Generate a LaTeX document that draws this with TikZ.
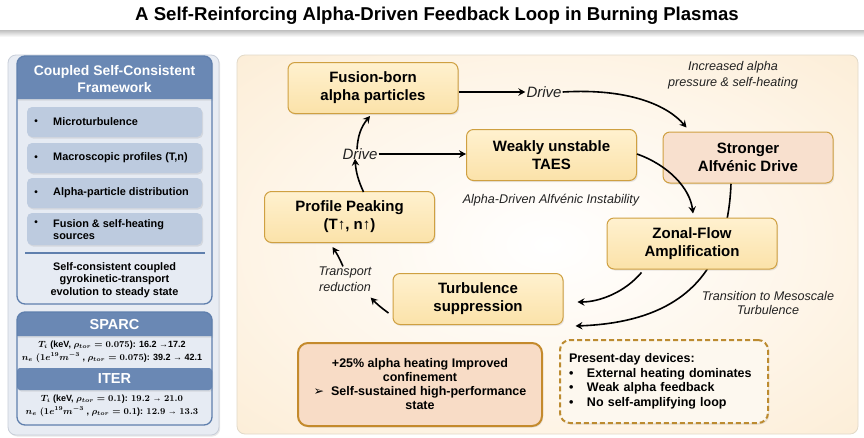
\documentclass[tikz,border=0pt]{standalone}
\usepackage{fontspec}
\setmainfont{Liberation Sans}
\newfontfamily\dejavu{DejaVu Sans}
\usetikzlibrary{shadows,arrows.meta,calc}
\definecolor{blueHead}{HTML}{6A88B4}
\definecolor{blueLine}{HTML}{5F7FAD}
\definecolor{leftBg}{HTML}{E8ECF3}
\definecolor{leftBorder}{HTML}{C8CED9}
\definecolor{frameBody}{HTML}{E6EBF3}
\definecolor{itemFill}{HTML}{BDCBDF}
\definecolor{boxTop}{HTML}{FFF1CF}
\definecolor{boxBot}{HTML}{FBE2A9}
\definecolor{boxLine}{HTML}{CFA041}
\definecolor{strongFill}{HTML}{F8E0CE}
\definecolor{resFill}{HTML}{F8DCC6}
\definecolor{resLine}{HTML}{C48A2C}
\definecolor{dashFill}{HTML}{FDF8EF}
\definecolor{dashLine}{HTML}{BC8B30}
\definecolor{pout}{HTML}{FAE6C6}
\definecolor{pmid}{HTML}{FEF5E8}
\definecolor{panelBorder}{HTML}{E2D9C8}
\definecolor{lblText}{HTML}{222222}
\pgfdeclareradialshading{panelshade}{\pgfpoint{0bp}{0bp}}{color(0bp)=(white); color(22bp)=(pmid); color(50bp)=(pout); color(75bp)=(pout)}
\pgfdeclarelayer{bg}
\pgfdeclarelayer{mid}
\pgfsetlayers{bg,mid,main}
\tikzset{
  myshadow/.style={drop shadow={opacity=0.18, shadow xshift=1.2pt, shadow yshift=-1.5pt}},
  box/.style={draw=boxLine, line width=1pt, top color=boxTop, bottom color=boxBot, rounded corners=7pt,
    align=center, font=\bfseries\fontsize{15}{18}\selectfont, minimum width=170pt, minimum height=51pt,
    inner sep=2pt, myshadow},
  strongbox/.style={box, top color=strongFill, bottom color=strongFill},
  lbl/.style={font=\itshape\fontsize{15}{18}\selectfont, text=lblText, inner sep=1pt},
  smalllbl/.style={font=\itshape\fontsize{12.6}{16}\selectfont, text=lblText, align=center, inner sep=1pt},
  arr/.style={line width=1.6pt, -{Stealth[length=7pt,width=7.5pt,inset=2.5pt]}},
  item/.style={fill=itemFill, rounded corners=5pt, minimum width=175pt, inner sep=0pt, myshadow},
  itemtxt/.style={font=\bfseries\fontsize{10.9}{12.8}\selectfont, align=left, anchor=west, inner sep=0pt},
  bul/.style={font=\bfseries\fontsize{10}{12}\selectfont, inner sep=0pt},
  headtxt/.style={text=white, font=\bfseries\fontsize{14.5}{17}\selectfont, inner sep=0pt},
  mathtxt/.style={font=\bfseries\fontsize{9}{11}\selectfont, align=center, inner sep=0pt},
}
\begin{document}
\begin{tikzpicture}[x=1pt,y=-1pt]
\useasboundingbox (0,0) rectangle (864,437);

\begin{pgfonlayer}{bg}
\fill[white] (0,0) rectangle (864,437);
\shade[top color=black!25, bottom color=white] (0,30) rectangle (864,37);
% left panel
\path[fill=leftBg, draw=leftBorder, line width=0.8pt, rounded corners=8pt, myshadow] (8,55) rectangle (219,435);
% main panel
\path[shading=panelshade, rounded corners=8pt] (237,55) rectangle (858,434);
\draw[panelBorder, line width=0.8pt, rounded corners=8pt] (237,55) rectangle (858,434);
\end{pgfonlayer}

% title
\node[font=\bfseries\fontsize{18.6}{22}\selectfont] (title) at (437,16) {A Self-Reinforcing Alpha-Driven Feedback Loop in Burning Plasmas};

% framework box
\path[fill=frameBody, rounded corners=8pt] (17,56) rectangle (212,304);
\path[fill=blueHead, myshadow] (17,99) [rounded corners=8pt] -- (17,56) -- (212,56) [sharp corners] -- (212,99) -- cycle;
\draw[blueLine, line width=1.3pt, rounded corners=8pt] (17,56) rectangle (212,304);
\node[text=white, font=\bfseries\fontsize{13.9}{16.5}\selectfont, align=center, inner sep=0pt] (fwtitle) at (114.5,79) {Coupled Self-Consistent\\Framework};

\node[item, minimum height=30pt] (it1) at (114.5,122) {};
\node[item, minimum height=30pt] (it2) at (114.5,158) {};
\node[item, minimum height=30pt] (it3) at (114.5,193) {};
\node[item, minimum height=32pt] (it4) at (114.5,229) {};
\node[bul] (b1) at (36,122) {•};
\node[bul] (b2) at (36,158) {•};
\node[bul] (b3) at (36,193) {•};
\node[bul] (b4) at (36,223) {•};
\node[itemtxt] (t1) at (53,122) {Microturbulence};
\node[itemtxt] (t2) at (53,158) {Macroscopic profiles (T,n)};
\node[itemtxt] (t3) at (53,193) {Alpha-particle distribution};
\node[itemtxt] (t4) at (53,229.5) {Fusion \& self-heating\\sources};
\draw[blueLine, line width=1.3pt] (25,253) -- (205,253);
\node[font=\bfseries\fontsize{10.9}{12.5}\selectfont, align=center, inner sep=0pt] (sc) at (114.5,280) {Self-consistent coupled\\gyrokinetic-transport\\evolution to steady state};

% SPARC / ITER box
\path[fill=frameBody, rounded corners=8pt] (17,312) rectangle (212,425);
\path[fill=blueHead, myshadow] (17,336) [rounded corners=8pt] -- (17,312) -- (212,312) [sharp corners] -- (212,336) -- cycle;
\path[fill=blueHead, rounded corners=3pt, myshadow] (17,368) rectangle (212,390);
\draw[blueLine, line width=1.3pt, rounded corners=8pt] (17,312) rectangle (212,425);
\node[headtxt] (sparc) at (114.5,324.5) {SPARC};
\node[headtxt] (iter) at (114.5,379) {ITER};
\node[mathtxt] (sp1) at (112,345) {{\boldmath$T_i$ (keV, $\rho_{tor}=0.075$): 16.2 →17.2}};
\node[mathtxt] (sp2) at (112,357.5) {{\boldmath$n_e\;(1e^{19}m^{-3}$ , $\rho_{tor}=0.075$): 39.2 → 42.1}};
\node[mathtxt] (it1m) at (112,399) {{\boldmath$T_i$ (keV, $\rho_{tor}=0.1$): $19.2$ → $21.0$}};
\node[mathtxt] (it2m) at (112,411.5) {{\boldmath$n_e\;(1e^{19}m^{-3}$ , $\rho_{tor}=0.1$): $12.9$ → $13.3$}};

% main nodes
\node[box] (fus) at (373,88) {Fusion-born\\alpha particles};
\node[box] (taes) at (551.5,155) {Weakly unstable\\TAES};
\node[strongbox] (strong) at (748,157.5) {Stronger\\Alfvénic Drive};
\node[box] (zonal) at (692,243.5) {Zonal-Flow\\Amplification};
\node[box] (turb) at (478,299) {Turbulence\\suppression};
\node[box] (prof) at (349.5,217) {Profile Peaking\\(T↑, n↑)};

% labels
\node[lbl] (d1) at (544,92) {Drive};
\node[lbl] (d2) at (360,154) {Drive};
\node[smalllbl] (incr) at (733,75) {Increased alpha\\pressure \& self-heating};
\node[smalllbl] (adai) at (551,200) {Alpha-Driven Alfvénic Instability};
\node[smalllbl, font=\itshape\fontsize{12.6}{14.5}\selectfont] (trans) at (768,303) {Transition to Mesoscale\\Turbulence};
\node[smalllbl] (tr) at (345,279) {Transport\\reduction};

% bottom boxes
\node[draw=resLine, line width=2pt, fill=resFill, rounded corners=10pt, minimum width=244pt, minimum height=83pt,
  align=center, font=\bfseries\fontsize{12.5}{14}\selectfont, myshadow, inner sep=2pt] (res) at (420,384.5)
  {+25\% alpha heating Improved\\confinement\\{\dejavu\mdseries ➢}\ \ Self-sustained high-performance\\state};
\node[draw=dashLine, line width=2pt, dash pattern=on 5pt off 3pt, fill=dashFill, rounded corners=10pt,
  minimum width=208pt, minimum height=83pt, text width=190pt, align=left, inner xsep=9pt,
  font=\bfseries\fontsize{12.5}{14.5}\selectfont, myshadow] (pres) at (664,381.5)
  {Present-day devices:\\\makebox[18pt][l]{•}External heating dominates\\\makebox[18pt][l]{•}Weak alpha feedback\\\makebox[18pt][l]{•}No self-amplifying loop};

% edges
\begin{pgfonlayer}{mid}
\draw[arr] ([xshift=-17pt]strong.south) .. controls (728,265) and (690,322) .. ($(turb.south east)+(12,1)$);
\end{pgfonlayer}
\draw[arr] (fus.east |- d1) -- (d1.west);
\draw[arr] (d1.east) .. controls (630,88) and (668,106) .. ($(strong.north west)+(24,-4)$);
\draw[arr] (d2.east) -- (taes.west |- d2);
\draw[arr] ([xshift=-3pt,yshift=-2pt]d2.north) to[bend left=18] ([xshift=-3pt,yshift=-2pt]fus.south);
\draw[arr] ([xshift=14pt,yshift=-1pt]prof.north) to[bend left=10] ([xshift=-5pt,yshift=2pt]d2.south);
\draw[arr] ([yshift=1pt]taes.east) .. controls (668,165) and (690,188) .. ($(zonal.north)+(1,-4)$);
\draw[arr] ($(zonal.south west)+(35,3)$) .. controls (625,292) and (600,302) .. ($(turb.east)+(14,3)$);
\draw[arr] ($(turb.west)+(-4,14)$) to[bend left=5] ($(tr.south east)+(-2,5)$);
\draw[arr] ([xshift=-2pt,yshift=-1pt]tr.north) to[bend right=5] ($(prof.south)+(-17,4)$);
\end{tikzpicture}
\end{document}
